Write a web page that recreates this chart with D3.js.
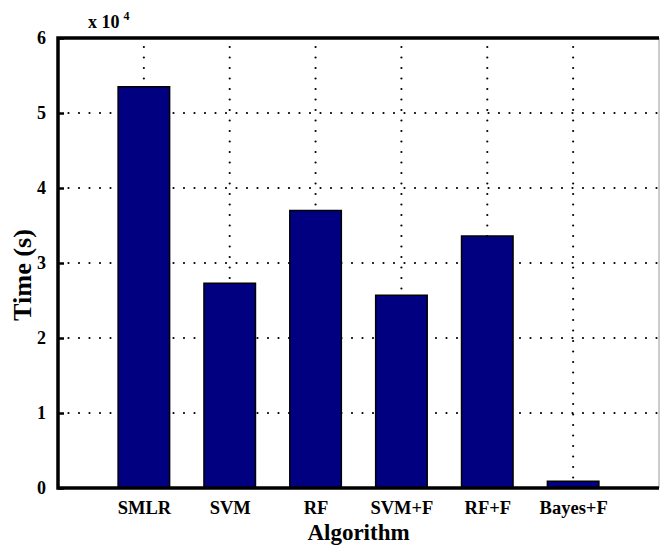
<!DOCTYPE html>
<html>
<head>
<meta charset="utf-8">
<script src="https://cdn.jsdelivr.net/npm/d3@7"></script>
<style>
  body { margin: 0; background: #fff; }
  text { font-family: "Liberation Serif", "Times New Roman", serif; font-weight: bold; fill: #000; }
</style>
</head>
<body>
<div id="chart"></div>
<script>
const algorithms = ['SMLR', 'SVM', 'RF', 'SVM+F', 'RF+F', 'Bayes+F']
const times = [5.35, 2.73, 3.70, 2.57, 3.36, 0.09] // x 10^4 s
const yTicks = [0, 1, 2, 3, 4, 5, 6]

const width = 660
const height = 545
const margin = { left: 58, right: 1, top: 38, bottom: 57 }

const svg = d3.create('svg')
    .attr('width', width)
    .attr('height', height)
    .attr('viewBox', [0, 0, width, height])

const x = d3.scaleLinear()
    .domain([0, algorithms.length + 1])
    .range([margin.left, width - margin.right])

const y = d3.scaleLinear()
    .domain([0, 6])
    .range([height - margin.bottom, margin.top])

const barWidth = x(0.6) - x(0)

/* dotted grid */
const grid = svg.append('g')
    .attr('stroke', '#000')
    .attr('stroke-width', 2.2)
    .attr('stroke-linecap', 'round')
    .attr('stroke-dasharray', '0 10.5')

grid.selectAll('.gx')
    .data(algorithms)
    .enter()
    .append('line')
    .attr('x1', (d, i) => x(i + 1))
    .attr('x2', (d, i) => x(i + 1))
    .attr('y1', y(0))
    .attr('y2', y(6))

grid.selectAll('.gy')
    .data(yTicks.slice(1, -1))
    .enter()
    .append('line')
    .attr('x1', x(0))
    .attr('x2', x(7))
    .attr('y1', d => y(d))
    .attr('y2', d => y(d))

/* bars */
svg.append('g')
    .selectAll('rect')
    .data(times)
    .enter()
    .append('rect')
    .attr('x', (d, i) => x(i + 1) - barWidth / 2)
    .attr('y', d => y(d))
    .attr('width', barWidth)
    .attr('height', d => y(0) - y(d))
    .attr('fill', '#000080')
    .attr('stroke', '#000')
    .attr('stroke-width', 1.5)

/* axes */
const yAxis = d3.axisLeft(y)
    .tickValues(yTicks)
    .tickFormat(d3.format('d'))
    .tickSizeInner(-6)
    .tickSizeOuter(0)
    .tickPadding(12)

const gy = svg.append('g')
    .attr('transform', `translate(${margin.left},0)`)
    .call(yAxis)
gy.select('.domain').remove()
gy.selectAll('.tick line').attr('stroke-width', 2.5)
gy.selectAll('.tick text').attr('font-size', 18).attr('font-family', null)

const xAxis = d3.axisBottom(x)
    .tickValues(d3.range(1, algorithms.length + 1))
    .tickFormat(d => algorithms[d - 1])
    .tickSize(0)
    .tickPadding(13)

const gx = svg.append('g')
    .attr('transform', `translate(0,${y(0)})`)
    .call(xAxis)
gx.select('.domain').remove()
gx.selectAll('.tick text').attr('font-size', 18.5).attr('font-family', null)

/* frame */
svg.append('line')
    .attr('x1', x(7)).attr('x2', x(7))
    .attr('y1', y(0)).attr('y2', y(6))
    .attr('stroke', '#999').attr('stroke-width', 1)
svg.append('path')
    .attr('d', `M${x(7)},${y(6)}H${x(0)}V${y(0)}H${x(7)}`)
    .attr('fill', 'none')
    .attr('stroke', '#000')
    .attr('stroke-width', 3.5)

/* labels */
const expo = svg.append('text')
    .attr('x', 88)
    .attr('y', 28)
    .attr('font-size', 18)
expo.append('tspan').text('x 10')
expo.append('tspan').attr('font-size', 12).attr('dy', -8).attr('dx', 4).text('4')

svg.append('text')
    .attr('transform', `translate(31,${(y(0) + y(6)) / 2 + 12}) rotate(-90)`)
    .attr('text-anchor', 'middle')
    .attr('font-size', 26)
    .attr('textLength', 92)
    .attr('lengthAdjust', 'spacingAndGlyphs')
    .text('Time (s)')

svg.append('text')
    .attr('x', (x(0) + x(7)) / 2)
    .attr('y', 539.5)
    .attr('text-anchor', 'middle')
    .attr('font-size', 23)
    .text('Algorithm')

document.getElementById('chart').appendChild(svg.node())
</script>
</body>
</html>
